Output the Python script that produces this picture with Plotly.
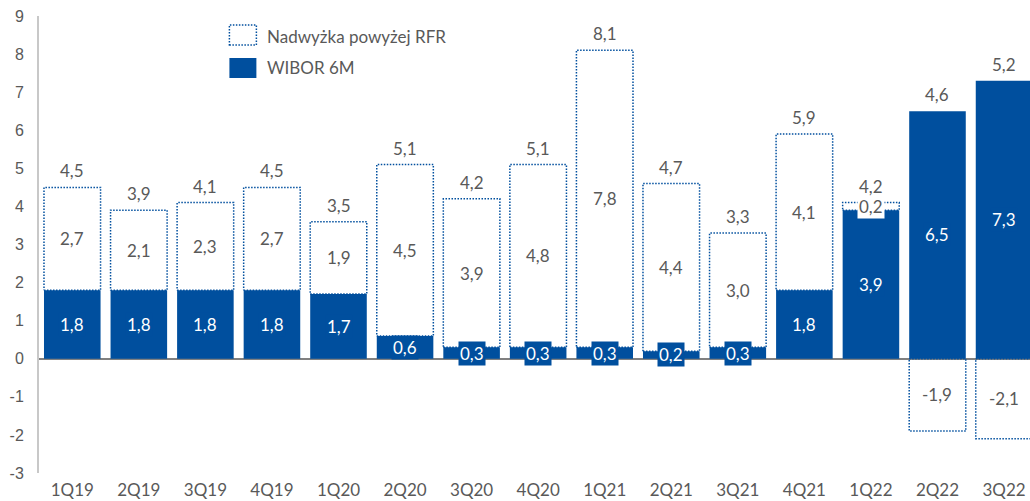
import plotly.graph_objects as go

# Quarterly data
quarters = ["1Q19", "2Q19", "3Q19", "4Q19", "1Q20", "2Q20", "3Q20", "4Q20",
            "1Q21", "2Q21", "3Q21", "4Q21", "1Q22", "2Q22", "3Q22"]
wibor = [1.8, 1.8, 1.8, 1.8, 1.7, 0.6, 0.3, 0.3, 0.3, 0.2, 0.3, 1.8, 3.9, 6.5, 7.3]
excess = [2.7, 2.1, 2.3, 2.7, 1.9, 4.5, 3.9, 4.8, 7.8, 4.4, 3.0, 4.1, 0.2, -1.9, -2.1]
totals = [4.5, 3.9, 4.1, 4.5, 3.5, 5.1, 4.2, 5.1, 8.1, 4.7, 3.3, 5.9, 4.2, 4.6, 5.2]
y_ticks = [-3, -2, -1, 0, 1, 2, 3, 4, 5, 6, 7, 8, 9]

BLUE = "#004F9E"
GREY = "#595959"
FONT = "Lato"
FS = 17
BAR_W = 0.85

def fmt(v):
    return f"{v:.1f}".replace(".", ",")

xs = list(range(len(quarters)))
fig = go.Figure()

# WIBOR 6M solid bars
fig.add_trace(go.Bar(x=xs, y=wibor, width=BAR_W, marker=dict(color=BLUE, line=dict(width=0)),
                     showlegend=False, hoverinfo="skip"))

# Excess over RFR: dotted outlined boxes, stacked on WIBOR when positive, below zero when negative
ox, oy = [], []
for i, (w, e) in enumerate(zip(wibor, excess)):
    b = w if e >= 0 else 0.0
    t = b + e
    x0, x1 = i - BAR_W / 2, i + BAR_W / 2
    ox += [x0, x1, x1, x0, x0, None]
    oy += [b, b, t, t, b, None]
fig.add_trace(go.Scatter(x=ox, y=oy, mode="lines", line=dict(color=BLUE, width=1.5, dash="1.5px,1.5px"),
                         showlegend=False, hoverinfo="skip"))

# Value labels
for i, (w, e, t) in enumerate(zip(wibor, excess, totals)):
    fig.add_annotation(x=i, y=w / 2, text=fmt(w), showarrow=False, bgcolor=BLUE,
                       font=dict(family=FONT, size=FS, color="white"), borderpad=1)
    b = w if e >= 0 else 0.0
    fig.add_annotation(x=i, y=b + e / 2, text=fmt(e), showarrow=False,
                       bgcolor="white" if abs(e) < 0.5 else "rgba(0,0,0,0)",
                       font=dict(family=FONT, size=FS, color=GREY), borderpad=1)
    top = max(w + max(e, 0), w)
    fig.add_annotation(x=i, y=top, text=fmt(t), showarrow=False, yanchor="bottom", yshift=4,
                       font=dict(family=FONT, size=FS, color=GREY))

# Manual legend
L, W, T, H = 38.5, 991.5, 16, 457
def px(x):
    return (x - L) / W
def py(y):
    return (T + H - y) / H

fig.add_shape(type="rect", xref="paper", yref="paper", x0=px(229), x1=px(256), y0=py(45), y1=py(25),
              line=dict(color=BLUE, width=1.5, dash="1.5px,1.5px"), fillcolor="white")
fig.add_shape(type="rect", xref="paper", yref="paper", x0=px(229), x1=px(256), y0=py(78), y1=py(58),
              line=dict(color=BLUE, width=0), fillcolor=BLUE)
fig.add_annotation(xref="paper", yref="paper", x=px(265), y=py(36), xanchor="left", yanchor="middle",
                   text="Nadwyżka powyżej RFR", showarrow=False, font=dict(family=FONT, size=FS, color=GREY))
fig.add_annotation(xref="paper", yref="paper", x=px(265), y=py(68), xanchor="left", yanchor="middle",
                   text="WIBOR 6M", showarrow=False, font=dict(family=FONT, size=FS, color=GREY))

fig.update_layout(
    width=1030, height=501,
    margin=dict(l=38.5, r=0, t=16, b=28),
    plot_bgcolor="white", paper_bgcolor="white",
    barmode="overlay",
    xaxis=dict(range=[-0.5, 14.39], tickvals=xs, ticktext=quarters, showgrid=False, zeroline=False,
               showline=False, ticks="", tickfont=dict(family=FONT, size=FS, color=GREY),
               ticklabelstandoff=5),
    yaxis=dict(range=[-3, 9], tickvals=y_ticks, ticktext=[str(v) for v in y_ticks],
               showgrid=False, zeroline=True, zerolinecolor="#808080",
               zerolinewidth=2, showline=True, linecolor="#C8C8C8", linewidth=2, ticks="",
               tickfont=dict(family="Liberation Sans", size=16, color=GREY), ticklabelstandoff=10),
)

fig.write_html("out.html")
